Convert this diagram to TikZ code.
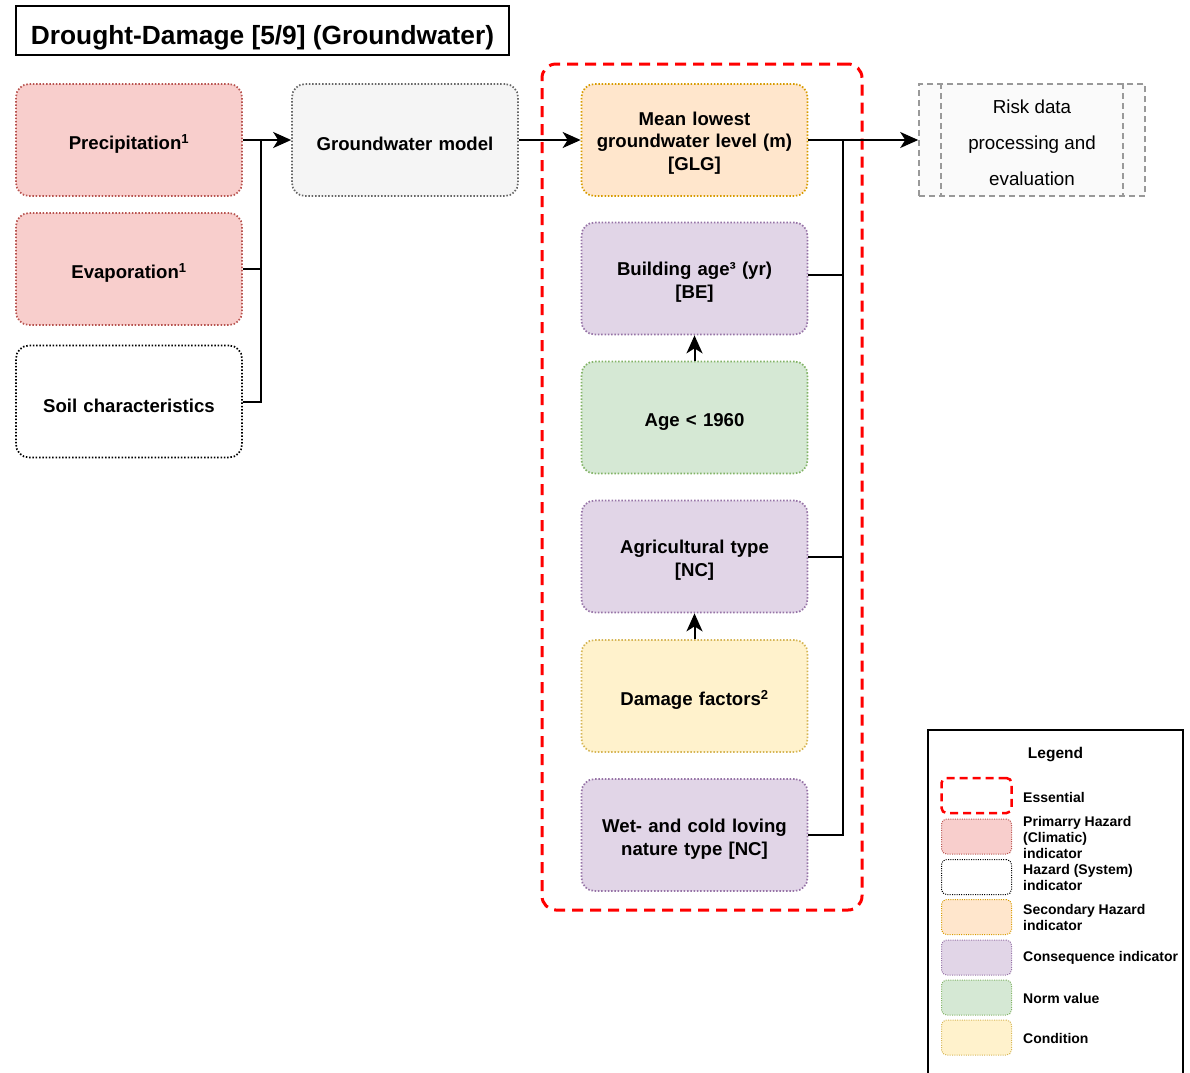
\documentclass[tikz,border=0pt]{standalone}
\usepackage{fontspec}
\setmainfont{Liberation Sans}
\usetikzlibrary{arrows.meta}

\definecolor{redF}{HTML}{F8CECC}\definecolor{redD}{HTML}{B85450}
\definecolor{grayF}{HTML}{F5F5F5}\definecolor{grayD}{HTML}{666666}
\definecolor{orgF}{HTML}{FFE6CC}\definecolor{orgD}{HTML}{D79B00}
\definecolor{purF}{HTML}{E1D5E7}\definecolor{purD}{HTML}{9673A6}
\definecolor{grnF}{HTML}{D5E8D4}\definecolor{grnD}{HTML}{82B366}
\definecolor{yelF}{HTML}{FFF2CC}\definecolor{yelD}{HTML}{D6B656}
\definecolor{riskF}{HTML}{FAFAFA}\definecolor{riskD}{HTML}{999999}
\definecolor{essR}{HTML}{FF0000}

\tikzset{
  box/.style={draw, rounded corners=13pt, minimum width=226pt, minimum height=112pt,
    line width=1.7pt, dash pattern=on 1.5pt off 1.8pt, inner sep=0pt},
  boxtext/.style={align=center, text width=215pt, inner sep=0pt, yshift=-4pt,
    font=\bfseries\fontsize{18.6}{22.8}\selectfont},
  swatch/.style={draw, rounded corners=5pt, minimum width=70pt, minimum height=35pt,
    line width=1pt, dash pattern=on 1pt off 1.3pt, inner sep=0pt},
  legtext/.style={anchor=west, align=left, inner sep=0pt,
    font=\bfseries\fontsize{14}{16}\selectfont},
  link/.style={line width=2pt, black},
  arr/.style={link, -{Stealth[length=18pt, width=16pt, inset=5pt]}},
  essential/.style={draw=essR, line width=3pt, dash pattern=on 11pt off 7pt, rounded corners=14pt},
}

\begin{document}
\begin{tikzpicture}[x=1pt, y=-1pt]
\useasboundingbox (0,0) rectangle (1190,1072);

% title frame and its text
\node[draw, line width=2pt, minimum width=493pt, minimum height=49pt, inner sep=0pt] (title) at (262.5,30.5) {};
\node[font=\bfseries\fontsize{26.3}{30}\selectfont, anchor=base] (titletext) at (262.5,44) {Drought-Damage [5/9] (Groundwater)};

% essential group frame
\node[essential, minimum width=320pt, minimum height=846pt, inner sep=0pt] (ess) at (702,487) {};

% inputs
\node[box, fill=redF, draw=redD, label={[boxtext]center:{Precipitation\textsuperscript{1}}}] (prec) at (129,140) {};
\node[box, fill=redF, draw=redD, label={[boxtext]center:{Evaporation\textsuperscript{1}}}] (evap) at (129,269) {};
\node[box, fill=white, draw=black, label={[boxtext]center:{Soil characteristics}}] (soil) at (129,401.5) {};
\node[box, fill=grayF, draw=grayD, label={[boxtext]center:{Groundwater model}}] (gwm) at (405,140) {};

% indicators
\node[box, fill=orgF, draw=orgD, label={[boxtext, yshift=1pt]center:{Mean lowest\\groundwater level (m)\\{[GLG]}}}] (glg) at (694.5,140) {};
\node[box, fill=purF, draw=purD, label={[boxtext]center:{Building age³ (yr)\\{[BE]}}}] (bage) at (694.5,278.5) {};
\node[box, fill=grnF, draw=grnD, label={[boxtext]center:{Age < 1960}}] (age) at (694.5,417.5) {};
\node[box, fill=purF, draw=purD, label={[boxtext]center:{Agricultural type\\{[NC]}}}] (agri) at (694.5,556.5) {};
\node[box, fill=yelF, draw=yelD, label={[boxtext]center:{Damage factors\textsuperscript{2}}}] (dmg) at (694.5,696) {};
\node[box, fill=purF, draw=purD, label={[boxtext]center:{Wet- and cold loving\\nature type [NC]}}] (wet) at (694.5,835) {};

% risk processing block
\node[draw=riskD, fill=riskF, line width=1.6pt, dash pattern=on 6pt off 4pt,
  minimum width=226pt, minimum height=112pt, inner sep=0pt,
  label={[align=center, inner sep=0pt, yshift=-3pt, font=\fontsize{18.8}{36}\selectfont]center:{Risk data\\processing and\\evaluation}}] (risk) at (1032,140) {};
\draw[riskD, line width=1.6pt, dash pattern=on 6pt off 4pt]
  ([xshift=23pt]risk.north west) -- ([xshift=23pt]risk.south west)
  ([xshift=-23pt]risk.north east) -- ([xshift=-23pt]risk.south east);

% connectors
\coordinate (busL) at (261,140);
\coordinate (busR) at (843,140);
\draw[arr] (prec.east) -- (gwm.west);
\draw[link] (evap.east) -| (busL);
\draw[link] (soil.east) -| (busL);
\draw[arr] (gwm.east) -- (glg.west);
\draw[arr] (glg.east) -- (risk.west);
\draw[link] ([yshift=4pt]bage.east) -| (busR);
\draw[link] (agri.east) -| (busR);
\draw[link] (wet.east) -| (busR);
\draw[arr] (age.north) -- (bage.south);
\draw[arr] (dmg.north) -- (agri.south);

% legend
\coordinate (lgA) at (928,1085);
\coordinate (lgB) at (1183,1085);
\draw[line width=2pt] (lgA) -- (928,730) -- (1183,730) -- (lgB);
\node[font=\bfseries\fontsize{15.5}{18}\selectfont] (lgtitle) at (1055.5,755) {Legend};

\node[draw=essR, line width=2.5pt, dash pattern=on 8pt off 5pt, rounded corners=5pt,
  minimum width=70pt, minimum height=35pt, inner sep=0pt] (s1) at (976.5,795.5) {};
\node[swatch, fill=redF, draw=redD] (s2) at (976.5,836.5) {};
\node[swatch, fill=white, draw=black] (s3) at (976.5,877) {};
\node[swatch, fill=orgF, draw=orgD] (s4) at (976.5,917) {};
\node[swatch, fill=purF, draw=purD] (s5) at (976.5,957.5) {};
\node[swatch, fill=grnF, draw=grnD] (s6) at (976.5,997.5) {};
\node[swatch, fill=yelF, draw=yelD] (s7) at (976.5,1037.5) {};

\node[legtext] (t1) at (1023,797) {Essential};
\node[legtext] (t2) at (1023,837) {Primarry Hazard\\(Climatic)\\indicator};
\node[legtext] (t3) at (1023,877) {Hazard (System)\\indicator};
\node[legtext] (t4) at (1023,917) {Secondary Hazard\\indicator};
\node[legtext] (t5) at (1023,958) {Consequence indicator};
\node[legtext] (t6) at (1023,998) {Norm value};
\node[legtext] (t7) at (1023,1038) {Condition};
\end{tikzpicture}
\end{document}
